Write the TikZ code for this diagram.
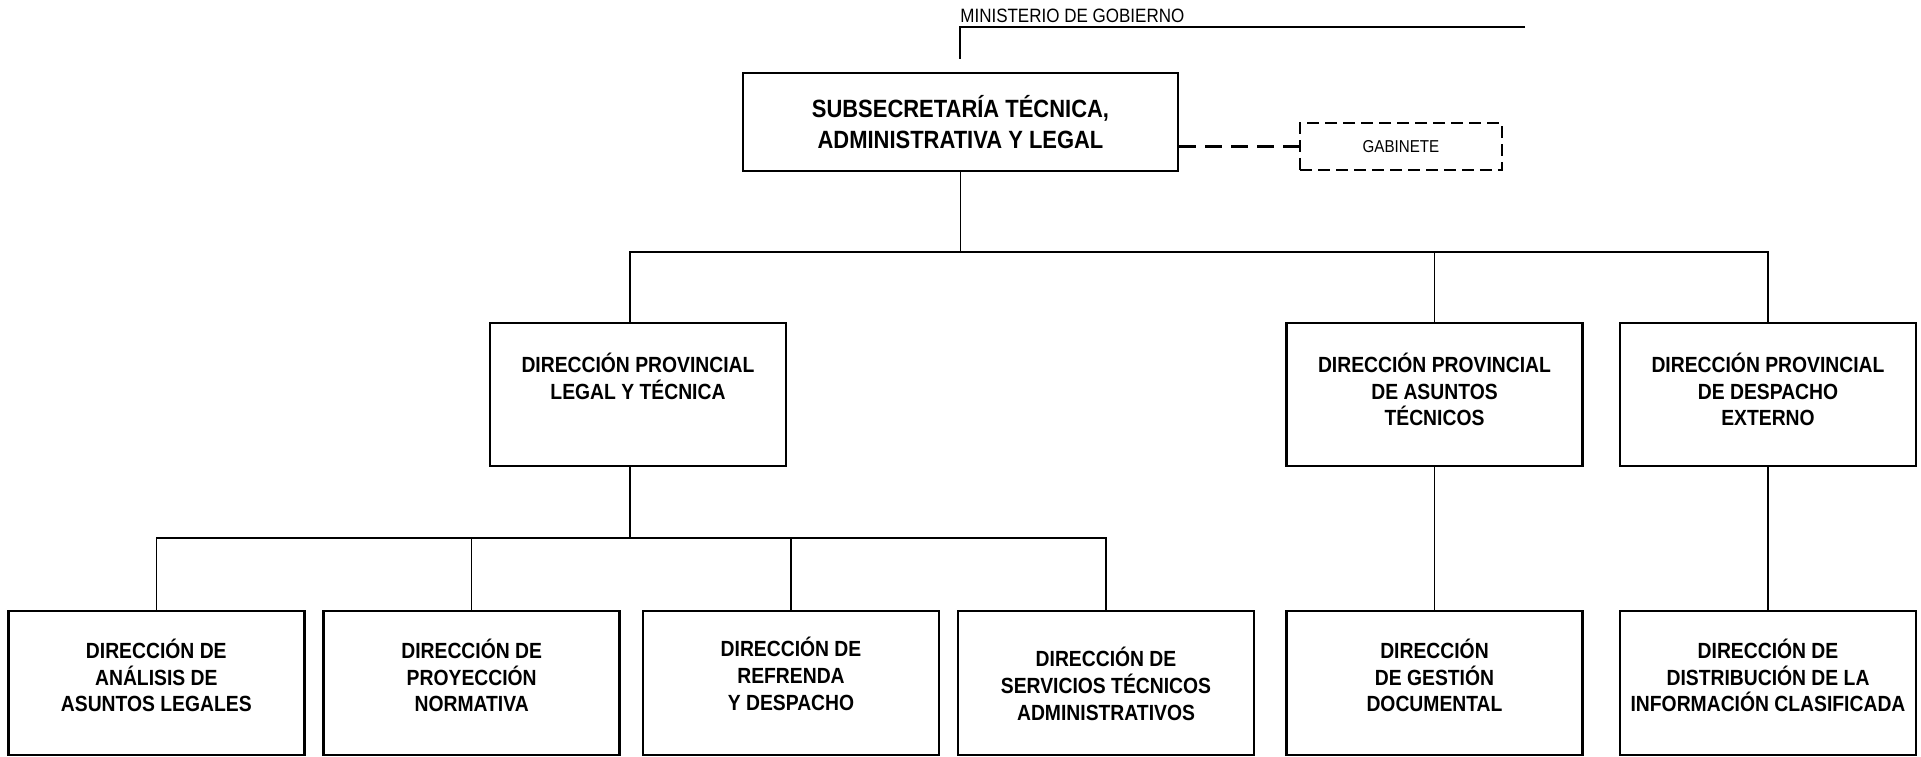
\documentclass[tikz,border=0pt]{standalone}
\usepackage{fontspec}
\setmainfont{Liberation Sans}[FakeStretch=0.88]

\newcommand{\rotulo}[3]{\parbox[c][#1][t]{5.9cm}{\centering\vspace*{#2}#3}}

\begin{document}
\begin{tikzpicture}[x=0.02cm,y=-0.02cm,
        caja/.style={draw,line width=1.5pt,inner sep=0pt,minimum width=5.92cm,font=\fontsize{12.5}{15.1}\selectfont\bfseries},
        linea/.style={line width=0.6pt},
        punteada/.style={line width=1.5pt,dash pattern=on 0.24cm off 0.12cm}]
            \def\hmed{2.86cm}
            \def\hbaj{2.88cm}

            \useasboundingbox (0,0) rectangle (1921,757);

            \node[anchor=base west,inner sep=0pt,font=\fontsize{11}{13}\selectfont] (ministerio) at (960,23) {MINISTERIO DE GOBIERNO};
            \coordinate (mg) at (960,27);
            \coordinate (mgfin) at (1525,27);
            \coordinate (mgbaja) at (960,59);
            \draw[linea] (mgfin) -- (mg) -- (mgbaja);

            \node[draw,line width=1.5pt,minimum width=8.7cm,minimum height=1.96cm,align=center,font=\fontsize{14.2}{17.5}\selectfont\bfseries] (ste) at (960.5,122) {SUBSECRETARÍA TÉCNICA,\\ADMINISTRATIVA Y LEGAL};
            \node[punteada,draw,minimum width=4.04cm,minimum height=0.94cm,font=\fontsize{9.8}{12}\selectfont] (gab) at (1401,146.5) {GABINETE};
            \draw[line width=1.5pt,dash pattern=on 0.34cm off 0.18cm] (ste.east |- gab.west) -- (gab.west);

            \node[caja] (dplt) at (638,394.5) {\rotulo{\hmed}{0.6cm}{DIRECCIÓN PROVINCIAL\\LEGAL Y TÉCNICA}};
            \node[caja] (dpat) at (1434.5,394.5) {\rotulo{\hmed}{0.6cm}{DIRECCIÓN PROVINCIAL\\DE ASUNTOS\\TÉCNICOS}};
            \node[caja] (dpde) at (1768,394.5) {\rotulo{\hmed}{0.6cm}{DIRECCIÓN PROVINCIAL\\DE DESPACHO\\EXTERNO}};

            \node[caja] (dal) at (156.3,683) {\rotulo{\hbaj}{0.56cm}{DIRECCIÓN DE\\ANÁLISIS DE\\ASUNTOS LEGALES}};
            \node[caja] (dpn) at (471.7,683) {\rotulo{\hbaj}{0.56cm}{DIRECCIÓN DE\\PROYECCIÓN\\NORMATIVA}};
            \node[caja] (drd) at (791,683) {\rotulo{\hbaj}{0.53cm}{DIRECCIÓN DE\\REFRENDA\\Y DESPACHO}};
            \node[caja] (dsta) at (1106,683) {\rotulo{\hbaj}{0.73cm}{DIRECCIÓN DE\\SERVICIOS TÉCNICOS\\ADMINISTRATIVOS}};
            \node[caja] (dgd) at (1434.5,683) {\rotulo{\hbaj}{0.56cm}{DIRECCIÓN\\DE GESTIÓN\\DOCUMENTAL}};
            \node[caja] (ddic) at (1768,683) {\rotulo{\hbaj}{0.56cm}{DIRECCIÓN DE\\DISTRIBUCIÓN DE LA\\INFORMACIÓN CLASIFICADA}};

            \coordinate (b1) at (960.5,252);
            \coordinate (b2) at (630,538);
            \draw[linea] (ste.south) -- (b1);
            \draw[linea] (dplt.north -| b2) -- (b1 -| b2) -- (b1 -| dpde.north) -- (dpde.north);
            \draw[linea] (dpat.north) -- (dpat.north |- b1);
            \draw[linea] (dplt.south -| b2) -- (b2);
            \draw[linea] (dal.north) -- (dal.north |- b2) -- (dsta.north |- b2) -- (dsta.north);
            \draw[linea] (dpn.north) -- (dpn.north |- b2);
            \draw[linea] (drd.north) -- (drd.north |- b2);
            \draw[linea] (dpat.south) -- (dgd.north);
            \draw[linea] (dpde.south) -- (ddic.north);

        \end{tikzpicture}
\end{document}
